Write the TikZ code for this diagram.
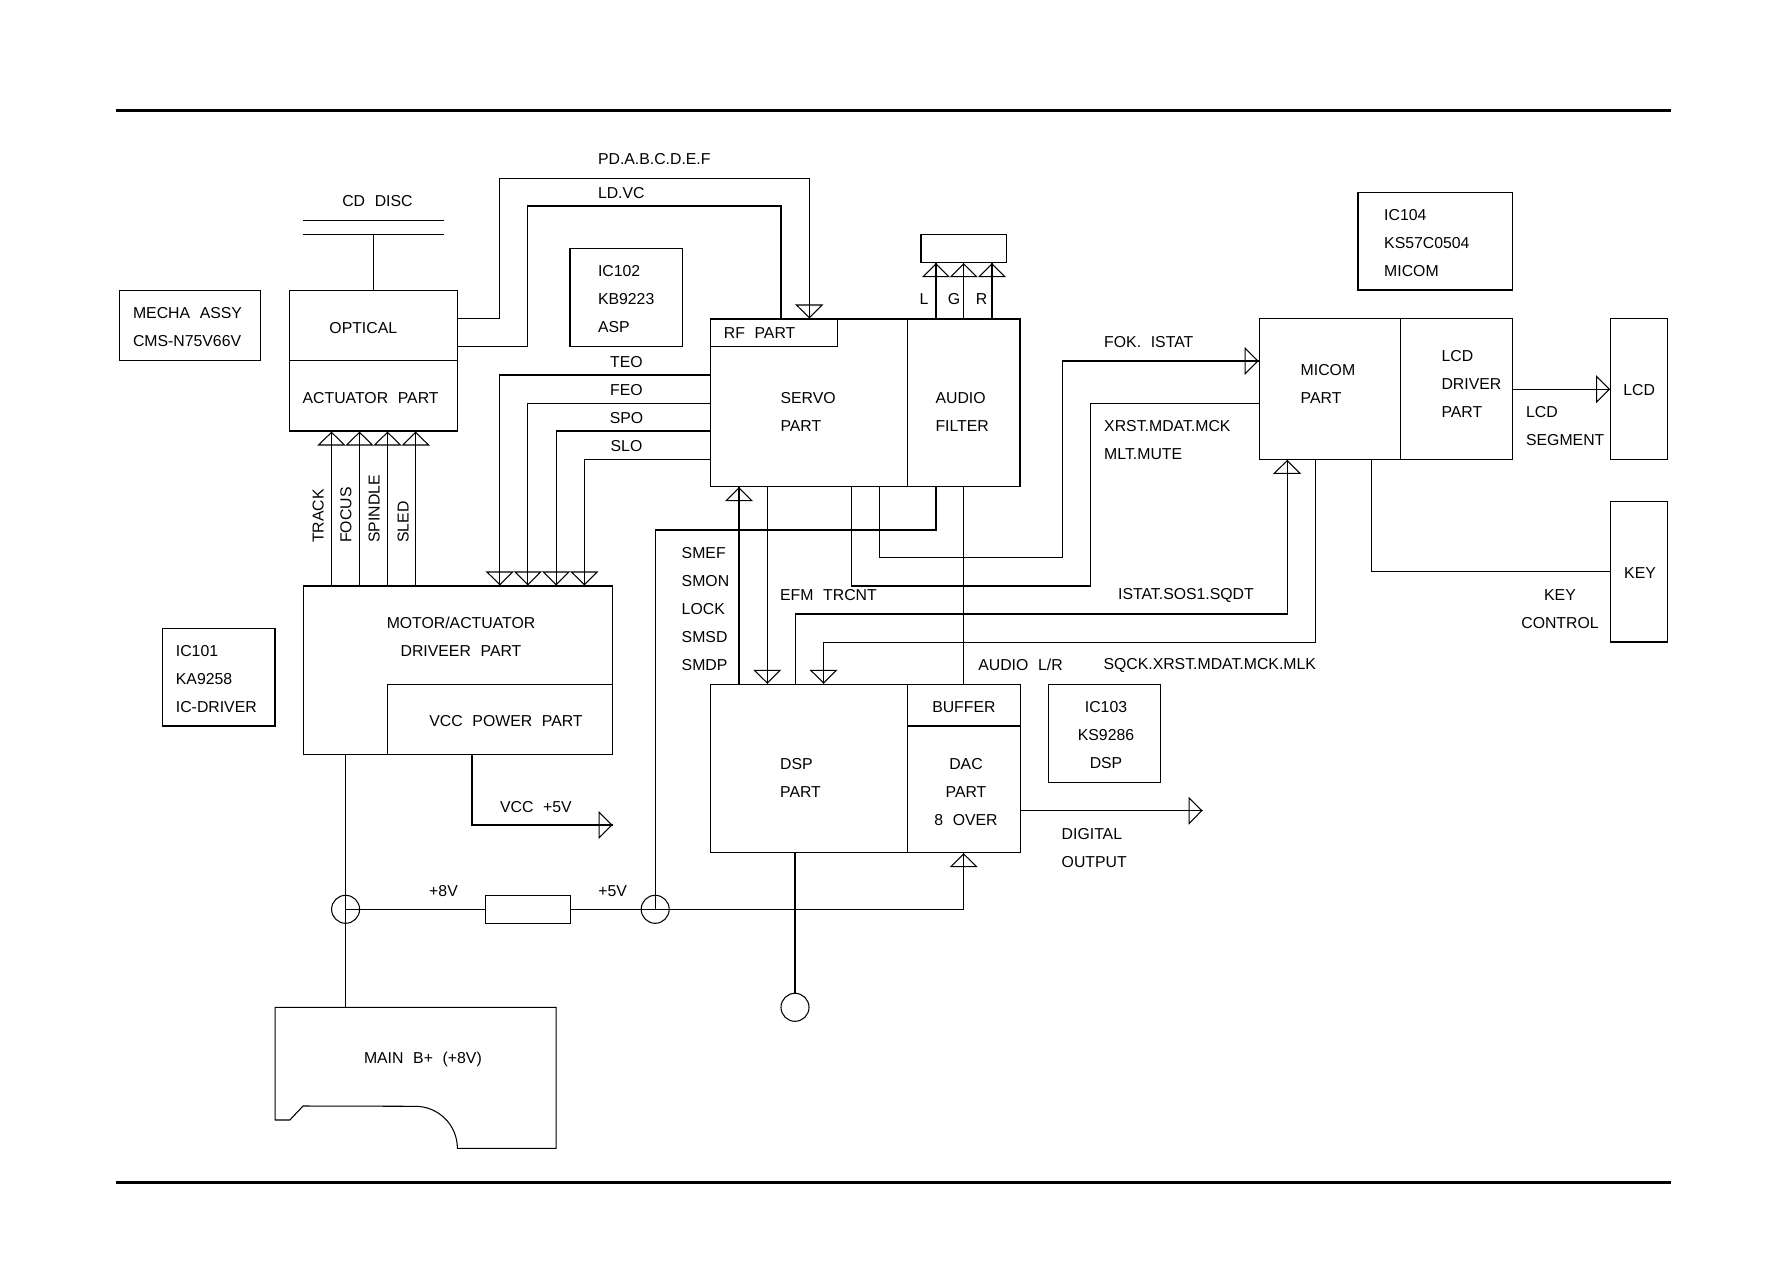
\documentclass[tikz,border=0pt]{standalone}
\usepackage{fontspec}
\setmainfont{Liberation Sans}[WordSpace=2.2]
\usetikzlibrary{arrows.meta,fit,decorations.markings}

\begin{document}
\begin{tikzpicture}[x=0.2mm,y=-0.2mm,line width=0.6pt,
  box/.style={draw,inner sep=0pt,fit={#1}},
  lbl/.style={anchor=west,inner sep=0pt,align=left,font=\fontsize{9}{15.94}\selectfont},
  clbl/.style={lbl,anchor=center,align=center},
  tip/.style={decoration={markings,mark=at position 1 with {\arrow{Triangle[open,length=2.8mm,width=5.6mm]}}},postaction={decorate}},
  dot/.style={draw,circle,minimum size=5.6mm,inner sep=0pt},
  rule/.style={line width=1.4pt}]
\useasboundingbox (0,0) rectangle (1787,1263);
\draw[rule] (115.8,110.7) -- (1670.6,110.7);
\draw[rule] (115.8,1182.7) -- (1670.6,1182.7);

% disc
\draw (302.8,220.3) -- (443.6,220.3);
\draw (302.8,234.3) -- (443.6,234.3);
\coordinate (disc) at (373.2,234.3);

% blocks
\node[box={(119.9,290.3) (260.7,360.7)}] (mecha) {};
\node[box={(289.4,290.3) (457.8,360.7)}] (optical) {};
\node[box={(289.4,360.7) (457.8,431)}] (actuator) {};
\node[box={(570,248.3) (682.3,346.7)}] (ic102) {};
\node[box={(710.7,319) (907.3,486.7)}] (servo) {};
\node[box={(710.7,319) (837.3,346.7)}] (rf) {};
\node[box={(907.3,319) (1020,486.7)}] (filter) {};
\node[box={(921,234.3) (1006.7,262.7)}] (lgr) {};
\node[box={(1358,192.3) (1512.2,290)}] (ic104) {};
\node[box={(1259.1,318.7) (1400.3,459.3)}] (micom) {};
\node[box={(1400.3,318.7) (1512.2,459.3)}] (lcddrv) {};
\node[box={(1610.6,318.7) (1667.2,459.3)}] (lcd) {};
\node[box={(1610.6,501.7) (1667.2,642)}] (key) {};
\node[box={(162.5,628.3) (275,726)}] (ic101) {};
\node[box={(303.2,586) (612.9,754.3)}] (motor) {};
\node[box={(387.5,684.3) (612.9,754.3)}] (vccpow) {};
\node[box={(710.7,684.3) (907.4,852.7)}] (dsp) {};
\node[box={(907.4,684.3) (1020.3,726)}] (buffer) {};
\node[box={(907.4,726) (1020.3,852.7)}] (dac) {};
\node[box={(1048.6,684.3) (1160.8,782.7)}] (ic103) {};
\node[box={(485.7,895.3) (570.3,923.3)}] (res) {};
\node[dot] (p8) at (345.6,909.3) {};
\node[dot] (p5) at (655.2,909.3) {};
\node[dot] (gnd) at (795,1007.3) {};
\draw (275.2,1007.3) -- (556.1,1007.3) -- (556.1,1148.3) -- (457.4,1148.3)
  arc[start angle=0,end angle=90,radius=8.4mm] -- (303.1,1106) -- (289.8,1120) -- (275.2,1120) -- cycle;
\coordinate (mainb) at (345.6,1007.3);
\coordinate (digout) at (1202.5,810.7);
\coordinate (vccout) at (612.5,825);

% texts
\node[clbl] (cdlbl) at (377.4,201) {CD DISC};
\node[lbl] (mechalbl) at (132.5,327.5) {MECHA ASSY\\CMS-N75V66V};
\node[clbl] (optlbl) at (363.3,327.7) {OPTICAL};
\node[clbl] (actlbl) at (370.6,398.3) {ACTUATOR PART};
\node[lbl] (pdlbl) at (597.5,159) {PD.A.B.C.D.E.F};
\node[lbl] (ldlbl) at (597.5,193.3) {LD.VC};
\node[lbl] (ic102lbl) at (597.5,299.4) {IC102\\KB9223\\ASP};
\node[clbl] (teolbl) at (626.5,361.7) {TEO};
\node[clbl] (feolbl) at (626.5,390) {FEO};
\node[clbl] (spolbl) at (626.5,417.7) {SPO};
\node[clbl] (slolbl) at (626.5,446) {SLO};
\node[lbl] (rflbl) at (723.3,333.3) {RF PART};
\node[lbl] (servolbl) at (780,411.7) {SERVO\\PART};
\node[lbl] (filterlbl) at (935,411.7) {AUDIO\\FILTER};
\node[clbl] (llbl) at (924,299.3) {L};
\node[clbl] (glbl) at (954,299.3) {G};
\node[clbl] (rlbl) at (981.7,299.3) {R};
\node[lbl] (ic104lbl) at (1383.7,243.3) {IC104\\KS57C0504\\MICOM};
\node[lbl] (foklbl) at (1103.7,341.7) {FOK. ISTAT};
\node[lbl] (micomlbl) at (1300.2,384.2) {MICOM\\PART};
\node[lbl] (lcddrvlbl) at (1441,383.8) {LCD\\DRIVER\\PART};
\node[lbl] (lcdlbl) at (1622.9,390) {LCD};
\node[lbl] (seglbl) at (1525.6,426.2) {LCD\\SEGMENT};
\node[lbl] (xrstlbl) at (1103.7,440.2) {XRST.MDAT.MCK\\MLT.MUTE};
\node[lbl] (istatlbl) at (1117.6,595) {ISTAT.SOS1.SQDT};
\node[lbl] (keylbl) at (1623.7,573.3) {KEY};
\node[clbl] (keyctllbl) at (1560,609.2) {KEY\\CONTROL};
\node[lbl,rotate=90] (tracklbl) at (318.2,543.3) {TRACK};
\node[lbl,rotate=90] (focuslbl) at (346,543.3) {FOCUS};
\node[lbl,rotate=90] (spinlbl) at (374.3,543.3) {SPINDLE};
\node[lbl,rotate=90] (sledlbl) at (403.2,543.3) {SLED};
\node[clbl] (motorlbl) at (461,636.7) {MOTOR/ACTUATOR\\DRIVEER PART};
\node[lbl] (vcclbl) at (428.9,721) {VCC POWER PART};
\node[lbl] (ic101lbl) at (175.4,679) {IC101\\KA9258\\IC-DRIVER};
\node[lbl] (smeflbl) at (681.2,608.7) {SMEF\\SMON\\LOCK\\SMSD\\SMDP};
\node[lbl] (efmlbl) at (779.6,595) {EFM TRCNT};
\node[lbl] (audiolbl) at (977.8,665) {AUDIO L/R};
\node[lbl] (sqcklbl) at (1103,665) {SQCK.XRST.MDAT.MCK.MLK};
\node[clbl] (buflbl) at (963.9,707.3) {BUFFER};
\node[lbl] (dsplbl) at (779.6,777.5) {DSP\\PART};
\node[clbl] (daclbl) at (966,791.7) {DAC\\PART\\8 OVER};
\node[clbl] (ic103lbl) at (1106,735.5) {IC103\\KS9286\\DSP};
\node[lbl] (diglbl) at (1061.2,847.9) {DIGITAL\\OUTPUT};
\node[lbl] (vcc5lbl) at (499.6,806.7) {VCC +5V};
\node[lbl] (p8lbl) at (428.7,890.7) {+8V};
\node[lbl] (p5lbl) at (597.8,890.7) {+5V};
\node[clbl] (mainlbl) at (422.9,1059.3) {MAIN B+ (+8V)};

% connections
\draw (disc) -- (disc |- optical.north);
\draw[tip] (optical.east |- 0,318.7) -| (499.8,178.3) -| (809.3,0 |- servo.north);
\draw (optical.east |- 0,346.7) -| (527.9,206) -| (781,0 |- servo.north);
\draw[tip] (servo.west |- 0,375) -| (499.8,0 |- motor.north);
\draw[tip] (servo.west |- 0,403.3) -| (527.9,0 |- motor.north);
\draw[tip] (servo.west |- 0,431) -| (556.1,0 |- motor.north);
\draw[tip] (servo.west |- 0,459.3) -| (584.3,0 |- motor.north);
\foreach \x in {331.5,359.5,387.5,415.7}
  \draw[tip] (\x,0 |- motor.north) -- (\x,0 |- actuator.south);
\foreach \x in {936,963.7,992}
  \draw[tip] (\x,0 |- filter.north) -- (\x,0 |- lgr.south);
\draw[tip] (739,0 |- dsp.north) -- (739,0 |- servo.south);
\draw[tip] (767.3,0 |- servo.south) -- (767.3,0 |- dsp.north);
\draw (936,0 |- filter.south) |- (655.2,530) -- (p5.center);
\draw[tip] (879.5,0 |- servo.south) |- (1062.8,557.7) |- (micom.west |- 0,361);
\draw (micom.west |- 0,403.3) -| (1090.7,586) -| (851.5,0 |- servo.south);
\draw[tip] (795.3,0 |- dsp.north) |- (1287.2,614) -- (1287.2,0 |- micom.south);
\draw[tip] (1315.7,0 |- micom.south) |- (823.6,642.3) -- (823.6,0 |- dsp.north);
\draw (1371.8,0 |- micom.south) |- (key.west |- 0,571.7);
\draw[tip] (lcddrv.east |- 0,389.3) -- (lcd.west |- 0,389.3);
\draw (963.7,0 |- filter.south) -- (963.7,0 |- buffer.north);
\draw[tip] (dac.east |- digout) -- (digout);
\draw[tip] (472,0 |- motor.south) |- (vccout);
\draw (345.6,0 |- motor.south) -- (mainb);
\draw (p8.center) -- (res.west);
\draw[tip] (res.east) -- (p5.center) -| (963.7,0 |- dac.south);
\draw (795,0 |- dsp.south) -- (gnd.north);
\end{tikzpicture}
\end{document}
